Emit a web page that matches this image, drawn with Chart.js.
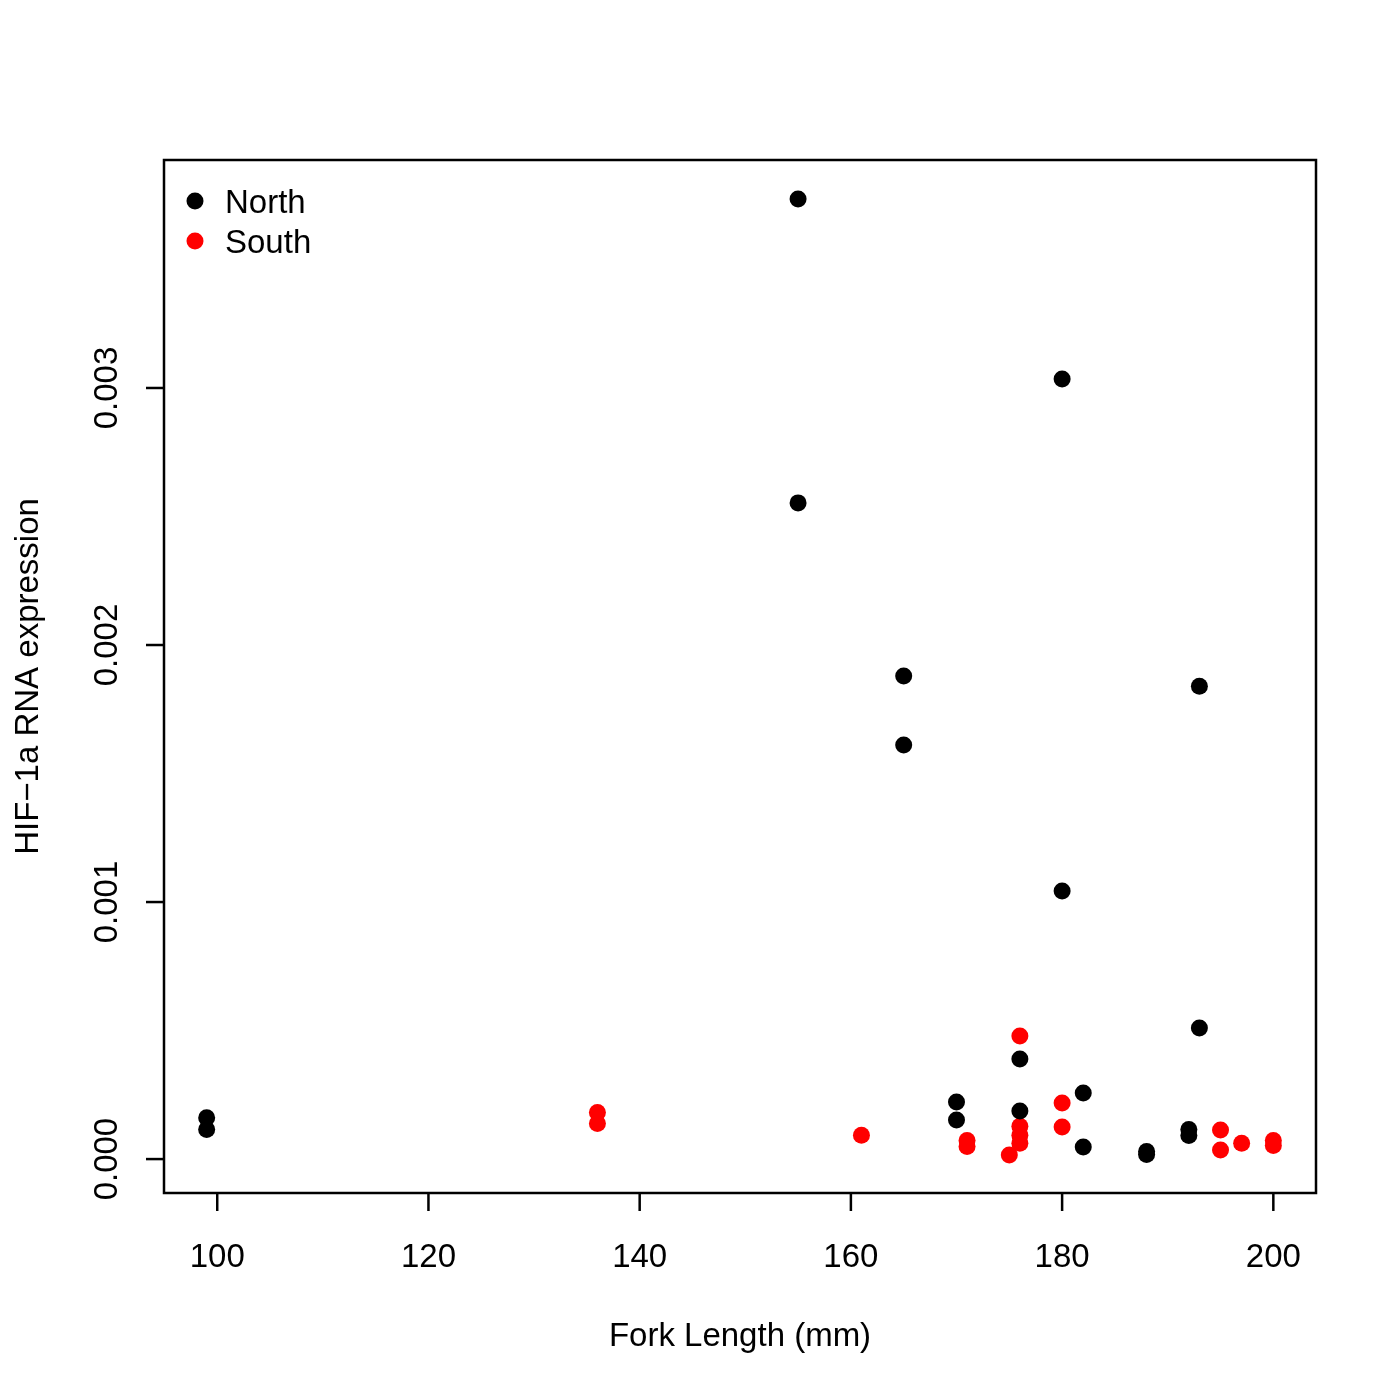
<!DOCTYPE html>
<html>
<head>
<meta charset="utf-8">
<script src="https://cdn.jsdelivr.net/npm/chart.js"></script>
<style>
    html, body { margin: 0; padding: 0; background: #fff; }
    canvas { display: block; }
</style>
</head>
<body>
<canvas id="chart" width="1398" height="1398"></canvas>
<script>
// Series values
const northLength = [99, 99, 155, 155, 165, 165, 170, 170, 176, 176,
    180, 180, 182, 182, 188, 188, 192, 192, 193, 193];
const northHif = [0.000161, 0.000115, 0.003735, 0.002553, 0.001879, 0.001611, 0.000222, 0.000152, 0.000389, 0.000187,
    0.003035, 0.001043, 0.000257, 0.000047, 0.000029, 0.000018, 0.000115, 0.000092, 0.001840, 0.000510];

const southLength = [136, 136, 161, 171, 171, 175, 176, 176, 176, 176,
    180, 180, 195, 195, 197, 200, 200];
const southHif = [0.000181, 0.000138, 0.000093, 0.000072, 0.000049, 0.000016, 0.000479, 0.000128, 0.000093, 0.000062,
    0.000218, 0.000125, 0.000113, 0.000035, 0.000062, 0.000072, 0.000053];

// Tick labels
const xTicks = [100, 120, 140, 160, 180, 200];
const yTicks = [0, 0.001, 0.002, 0.003];
const yTickLabels = ['0.000', '0.001', '0.002', '0.003'];

const xTitle = 'Fork Length (mm)';
const yTitle = 'HIF\u22121a RNA expression';

const FONT = '33px "Liberation Sans", Arial, sans-serif';

function toPoints(xs, ys) {
    return xs.map((x, i) => ({ x: x, y: ys[i] }));
}

// R-style axes, box and legend
const baseGraphics = {
    id: 'baseGraphics',
    afterDraw(chart) {
        const ctx = chart.ctx;
        const area = chart.chartArea;
        const xs = chart.scales.x;
        const ys = chart.scales.y;

        ctx.save();
        ctx.strokeStyle = '#000';
        ctx.lineWidth = 2.5;
        ctx.strokeRect(area.left, area.top, area.right - area.left, area.bottom - area.top);

        ctx.fillStyle = '#000';
        ctx.font = FONT;

        // x axis ticks
        ctx.textAlign = 'center';
        ctx.textBaseline = 'alphabetic';
        xTicks.forEach(v => {
            const px = xs.getPixelForValue(v);
            ctx.beginPath();
            ctx.moveTo(px, area.bottom);
            ctx.lineTo(px, area.bottom + 18);
            ctx.stroke();
            ctx.fillText(String(v), px, 1267);
        });

        // y axis ticks, labels rotated
        yTicks.forEach((v, i) => {
            const py = ys.getPixelForValue(v);
            ctx.beginPath();
            ctx.moveTo(area.left, py);
            ctx.lineTo(area.left - 18, py);
            ctx.stroke();
            ctx.save();
            ctx.translate(117, py);
            ctx.rotate(-Math.PI / 2);
            ctx.fillText(yTickLabels[i], 0, 0);
            ctx.restore();
        });

        // axis titles
        ctx.fillText(xTitle, (area.left + area.right) / 2, 1346);
        ctx.save();
        ctx.translate(38, (area.top + area.bottom) / 2);
        ctx.rotate(-Math.PI / 2);
        ctx.fillText(yTitle, 0, 0);
        ctx.restore();

        // legend, top left inside the box
        ctx.textAlign = 'left';
        chart.data.datasets.forEach((ds, i) => {
            const cy = 201 + i * 40;
            ctx.fillStyle = ds.backgroundColor;
            ctx.beginPath();
            ctx.arc(195, cy, 8.5, 0, Math.PI * 2);
            ctx.fill();
            ctx.fillStyle = '#000';
            ctx.fillText(ds.label, 225, cy + 12);
        });
        ctx.restore();
    }
};

new Chart(document.getElementById('chart').getContext('2d'), {
    type: 'scatter',
    data: {
        datasets: [
            {
                label: 'North',
                data: toPoints(northLength, northHif),
                backgroundColor: '#000000',
                borderWidth: 0,
                pointRadius: 8.5
            },
            {
                label: 'South',
                data: toPoints(southLength, southHif),
                backgroundColor: '#ff0000',
                borderWidth: 0,
                pointRadius: 8.5
            }
        ]
    },
    options: {
        responsive: false,
        animation: false,
        layout: {
            padding: { left: 164, top: 160, right: 82, bottom: 205 }
        },
        plugins: {
            legend: { display: false },
            tooltip: { enabled: false }
        },
        scales: {
            x: { type: 'linear', display: false, min: 94.96, max: 204.04 },
            y: { type: 'linear', display: false, min: -0.000132, max: 0.003887 }
        }
    },
    plugins: [baseGraphics]
});
</script>
</body>
</html>
